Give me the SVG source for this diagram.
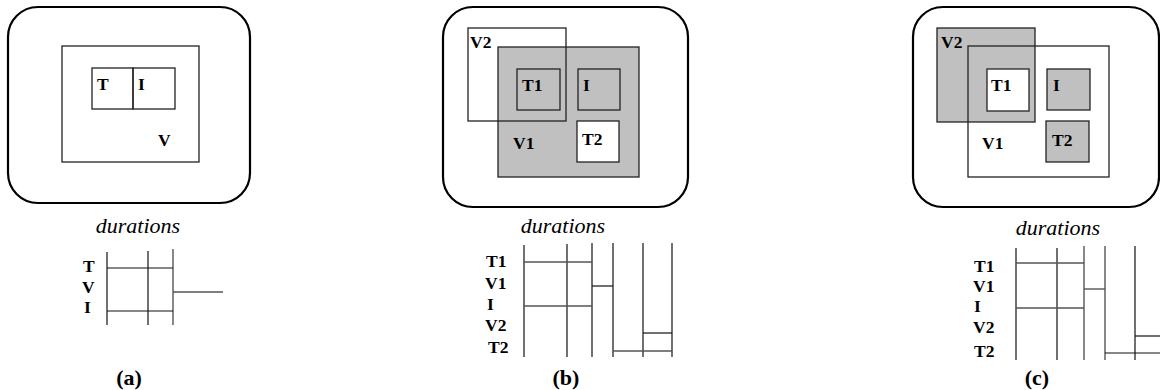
<svg xmlns="http://www.w3.org/2000/svg" width="1160" height="390" viewBox="0 0 1160 390">
  <style>
    .frame { fill: none; stroke: #000; stroke-width: 2.2; }
    .box { fill: none; stroke: #222; stroke-width: 1.3; }
    .shaded { fill: #c0c0c0; stroke: #222; stroke-width: 1.3; }
    .blank { fill: #fff; stroke: #222; stroke-width: 1.3; }
    text { font-family: "Liberation Serif", "DejaVu Serif", serif; fill: #000; }
    .lbl { font-weight: bold; font-size: 17.5px; }
    .cap { font-style: italic; font-size: 22px; text-anchor: middle; }
    .tag { font-weight: bold; font-size: 22px; text-anchor: middle; }
    .tl { stroke: #111; stroke-width: 1.2; fill: none; }
    .tg { stroke: #555; stroke-width: 1.4; fill: none; }
  </style>
  <rect width="1160" height="390" fill="#fff"/>

  <!-- Panel (a): T and I inside V -->
  <g id="panel-a">
    <rect class="frame" x="8" y="7" width="242" height="196" rx="30"/>
    <g id="a-V"><rect class="box" x="62" y="46" width="137" height="116"/><text class="lbl" x="158" y="146">V</text></g>
    <g id="a-T"><rect class="box" x="92" y="68" width="41" height="41"/><text class="lbl" x="97" y="90">T</text></g>
    <g id="a-I"><rect class="box" x="133" y="68" width="42" height="41"/><text class="lbl" x="138" y="90">I</text></g>
    <text class="cap" x="138" y="233">durations</text>
    <g id="a-timeline">
      <text class="lbl" x="83" y="272">T</text>
      <text class="lbl" x="82" y="293">V</text>
      <text class="lbl" x="84" y="313">I</text>
      <line class="tl" x1="107" y1="252" x2="107" y2="325"/>
      <line class="tl" x1="148" y1="251" x2="148" y2="325"/>
      <line class="tg" x1="173" y1="249" x2="173" y2="325"/>
      <line class="tl" x1="107" y1="268" x2="173" y2="268"/>
      <line class="tl" x1="107" y1="311" x2="173" y2="311"/>
      <line class="tg" x1="173" y1="292" x2="223" y2="292"/>
    </g>
    <text class="tag" x="129" y="385">(a)</text>
  </g>

  <!-- Panel (b): V1 shaded, V2 overlapping outline -->
  <g id="panel-b">
    <rect class="frame" x="443" y="7" width="245" height="200" rx="30"/>
    <g id="b-V1"><rect class="shaded" x="498" y="47" width="141" height="130"/><text class="lbl" x="513" y="149">V1</text></g>
    <g id="b-T1"><rect class="shaded" x="517" y="69" width="43" height="41"/><text class="lbl" x="522" y="91">T1</text></g>
    <g id="b-I"><rect class="shaded" x="578" y="69" width="42" height="41"/><text class="lbl" x="583" y="91">I</text></g>
    <g id="b-T2"><rect class="blank" x="577" y="121" width="42" height="41"/><text class="lbl" x="582" y="145">T2</text></g>
    <g id="b-V2"><rect class="box" x="468" y="28" width="98" height="93"/><text class="lbl" x="470" y="48">V2</text></g>
    <text class="cap" x="563" y="233">durations</text>
    <g id="b-timeline">
      <text class="lbl" x="486" y="267">T1</text>
      <text class="lbl" x="485" y="289">V1</text>
      <text class="lbl" x="487" y="310">I</text>
      <text class="lbl" x="485" y="331">V2</text>
      <text class="lbl" x="488" y="353">T2</text>
      <line class="tl" x1="524" y1="245" x2="524" y2="357"/>
      <line class="tl" x1="567" y1="244" x2="567" y2="357"/>
      <line class="tl" x1="592" y1="243" x2="592" y2="357"/>
      <line class="tl" x1="613" y1="243" x2="613" y2="357"/>
      <line class="tl" x1="643" y1="243" x2="643" y2="357"/>
      <line class="tl" x1="672" y1="243" x2="672" y2="357"/>
      <line class="tg" x1="524" y1="262" x2="592" y2="262"/>
      <line class="tg" x1="524" y1="306" x2="592" y2="306"/>
      <line class="tl" x1="592" y1="286" x2="613" y2="286"/>
      <line class="tl" x1="643" y1="333" x2="672" y2="333"/>
      <line class="tg" x1="613" y1="351" x2="672" y2="351"/>
    </g>
    <text class="tag" x="566" y="385">(b)</text>
  </g>

  <!-- Panel (c): V2 shaded, V1 outline on top -->
  <g id="panel-c">
    <rect class="frame" x="913" y="7" width="246" height="200" rx="30"/>
    <g id="c-V2"><rect class="shaded" x="937" y="28" width="98" height="94"/><text class="lbl" x="941" y="48">V2</text></g>
    <g id="c-V1"><rect class="box" x="968" y="46" width="141" height="131"/><text class="lbl" x="982" y="149">V1</text></g>
    <g id="c-T1"><rect class="blank" x="987" y="69" width="42" height="42"/><text class="lbl" x="991" y="91">T1</text></g>
    <g id="c-I"><rect class="shaded" x="1047" y="69" width="43" height="41"/><text class="lbl" x="1053" y="91">I</text></g>
    <g id="c-T2"><rect class="shaded" x="1046" y="121" width="43" height="41"/><text class="lbl" x="1052" y="146">T2</text></g>
    <text class="cap" x="1058" y="235">durations</text>
    <g id="c-timeline">
      <text class="lbl" x="974" y="272">T1</text>
      <text class="lbl" x="973" y="292">V1</text>
      <text class="lbl" x="974" y="312">I</text>
      <text class="lbl" x="973" y="333">V2</text>
      <text class="lbl" x="974" y="357">T2</text>
      <line class="tl" x1="1016" y1="248" x2="1016" y2="360"/>
      <line class="tl" x1="1057" y1="248" x2="1057" y2="360"/>
      <line class="tg" x1="1084" y1="246" x2="1084" y2="360"/>
      <line class="tg" x1="1105" y1="246" x2="1105" y2="360"/>
      <line class="tl" x1="1135" y1="246" x2="1135" y2="360"/>
      <line class="tg" x1="1016" y1="263" x2="1084" y2="263"/>
      <line class="tg" x1="1016" y1="308" x2="1084" y2="308"/>
      <line class="tg" x1="1084" y1="289" x2="1105" y2="289"/>
      <line class="tl" x1="1135" y1="336" x2="1160" y2="336"/>
      <line class="tl" x1="1105" y1="353" x2="1160" y2="353"/>
    </g>
    <text class="tag" x="1037" y="385">(c)</text>
  </g>
</svg>
